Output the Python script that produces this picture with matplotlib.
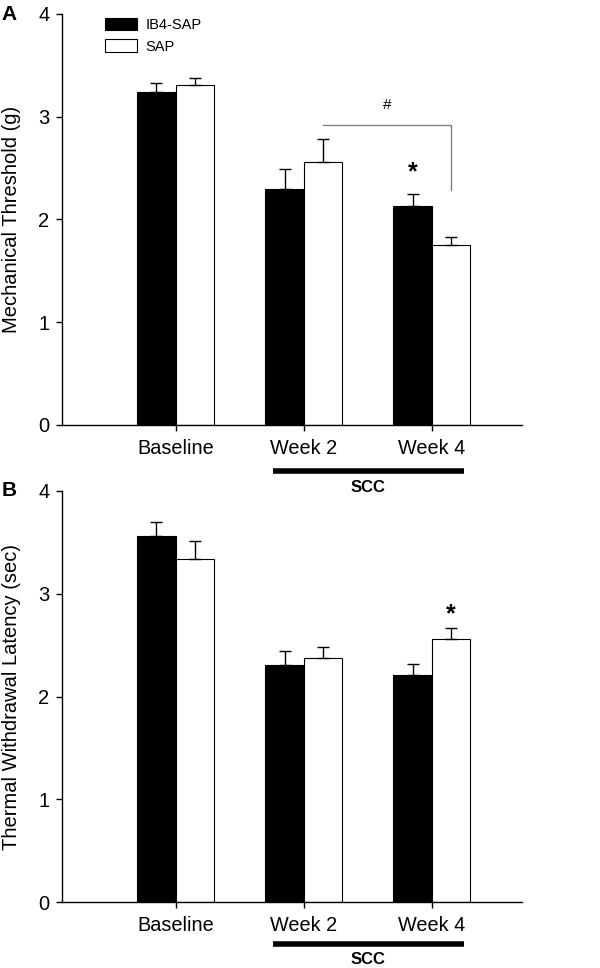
import numpy as np
import matplotlib.pyplot as plt
from matplotlib.transforms import blended_transform_factory

plt.rcParams['font.family'] = ['Liberation Sans', 'DejaVu Sans']

categories = ['Baseline', 'Week 2', 'Week 4']
series = ['IB4-SAP', 'SAP']

# panel A: mechanical threshold (g)
mech_ib4 = [3.24, 2.30, 2.13]
mech_ib4_err = [0.09, 0.19, 0.12]
mech_sap = [3.31, 2.56, 1.75]
mech_sap_err = [0.065, 0.22, 0.075]

# panel B: thermal withdrawal latency (sec)
therm_ib4 = [3.56, 2.31, 2.21]
therm_ib4_err = [0.14, 0.135, 0.11]
therm_sap = [3.34, 2.38, 2.56]
therm_sap_err = [0.17, 0.10, 0.107]

x = np.arange(1, len(categories) + 1)
w = 0.3

fig = plt.figure(figsize=(6, 9.68), dpi=100)
axA = fig.add_axes([0.1033, 0.5610, 0.7667, 0.4246])
axB = fig.add_axes([0.1033, 0.0679, 0.7667, 0.4249])


def draw(ax, v1, e1, v2, e2, ylabel, scc_line_y, scc_text_y):
    ax.patch.set_alpha(0)
    ax.bar(x - w / 2, v1, w, color='black', edgecolor='black', linewidth=0.8,
           yerr=[np.zeros(len(v1)), e1], capsize=4,
           error_kw=dict(ecolor='black', elinewidth=1, capthick=1), label=series[0])
    ax.bar(x + w / 2, v2, w, color='white', edgecolor='black', linewidth=0.8,
           yerr=[np.zeros(len(v2)), e2], capsize=4,
           error_kw=dict(ecolor='black', elinewidth=1, capthick=1), label=series[1])
    ax.set_xlim(0.112, 3.705)
    ax.set_ylim(0, 4)
    ax.set_yticks([0, 1, 2, 3, 4])
    ax.set_xticks(x)
    ax.set_xticklabels(categories, fontsize=14.3)
    ax.tick_params(axis='y', labelsize=14.5, direction='out', length=4, width=1, pad=5)
    ax.tick_params(axis='x', direction='out', length=4, width=1, pad=6)
    for s in ['top', 'right']:
        ax.spines[s].set_visible(False)
    for s in ['left', 'bottom']:
        ax.spines[s].set_linewidth(1)
    ax.set_ylabel(ylabel, fontsize=14.5)
    ax.yaxis.set_label_coords(-0.088, 0.5)
    # SCC bar under week 2 and week 4
    tr = blended_transform_factory(ax.transData, ax.transAxes)
    ax.plot([x[1] - 0.24, x[2] + 0.25], [scc_line_y, scc_line_y], color='black',
            linewidth=4, transform=tr, clip_on=False, solid_capstyle='butt')
    ax.text((x[1] + x[2]) / 2, scc_text_y, 'SCC', transform=tr, ha='center',
            va='center', fontsize=12, fontweight='bold')


draw(axA, mech_ib4, mech_ib4_err, mech_sap, mech_sap_err,
     'Mechanical Threshold (g)', -0.111, -0.151)
draw(axB, therm_ib4, therm_ib4_err, therm_sap, therm_sap_err,
     'Thermal Withdrawal Latency (sec)', -0.101, -0.140)

# legend on panel A
axA.legend(loc='upper left', bbox_to_anchor=(0.093, 0.99), borderaxespad=0,
           borderpad=0, handlelength=2.2, handleheight=0.9, handletextpad=0.6,
           labelspacing=0.5, frameon=False, fontsize=10.5)

# significance marks, panel A
axA.plot([x[1] + w / 2, x[2] + w / 2, x[2] + w / 2], [2.92, 2.92, 2.29],
         color='#808080', linewidth=1)
axA.text((x[1] + x[2]) / 2 + 0.15, 3.11, '#', ha='center', va='center', fontsize=11)
axA.text(x[2] - w / 2, 2.46, '*', ha='center', va='center', fontsize=18, fontweight='bold')

# panel B
axB.text(x[2] + w / 2, 2.80, '*', ha='center', va='center', fontsize=18, fontweight='bold')

fig.text(0.003, 0.985, 'A', fontsize=15, fontweight='bold', va='center', ha='left')
fig.text(0.003, 0.493, 'B', fontsize=15, fontweight='bold', va='center', ha='left')

fig.savefig('out.png', dpi=100)
